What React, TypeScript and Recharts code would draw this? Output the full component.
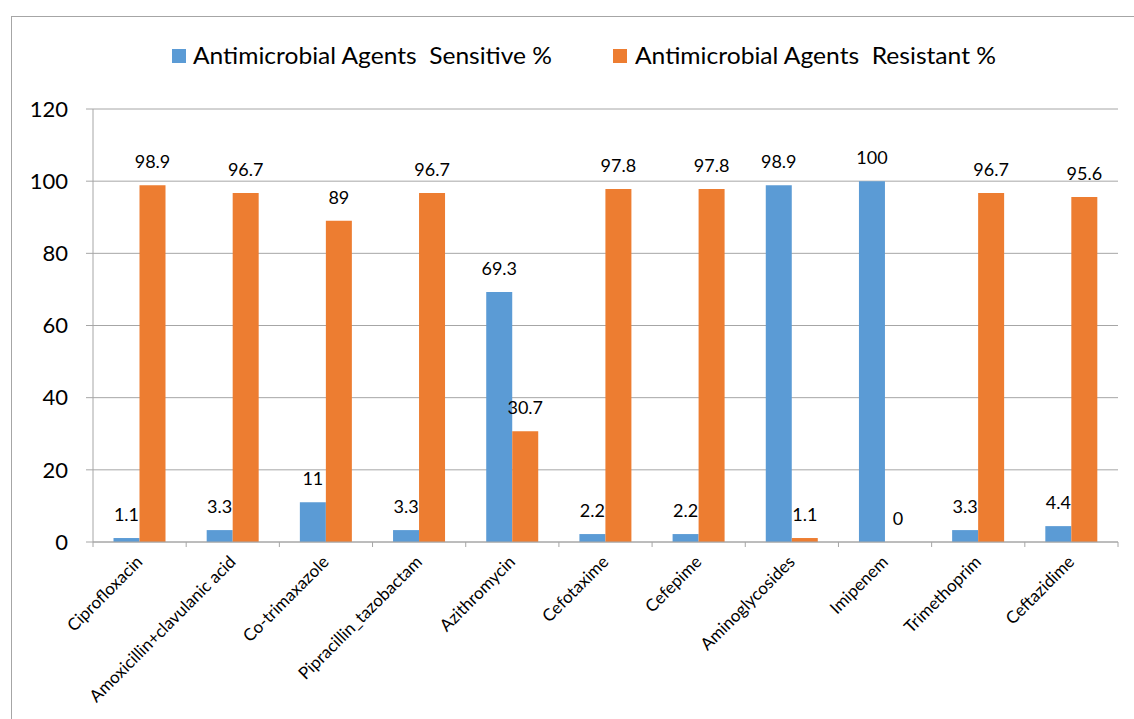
import React from 'react';
import { BarChart, Bar, XAxis, YAxis, CartesianGrid, Legend, LabelList } from 'recharts';

const CATEGORIES = [
  'Ciprofloxacin',
  'Amoxicillin+clavulanic acid',
  'Co-trimaxazole',
  'Pipracillin_tazobactam',
  'Azithromycin',
  'Cefotaxime',
  'Cefepime',
  'Aminoglycosides',
  'Imipenem',
  'Trimethoprim',
  'Ceftazidime',
];
const SENSITIVE = [1.1, 3.3, 11, 3.3, 69.3, 2.2, 2.2, 98.9, 100, 3.3, 4.4];
const RESISTANT = [98.9, 96.7, 89, 96.7, 30.7, 97.8, 97.8, 1.1, 0, 96.7, 95.6];
const Y_TICKS = [0, 20, 40, 60, 80, 100, 120];

const SERIES_NAMES = ['Antimicrobial Agents  Sensitive %', 'Antimicrobial Agents  Resistant %'];
const COLORS = ['#5b9bd5', '#ed7d31'];

const FONT = 'Lato, "Open Sans", sans-serif';
const AXIS_COLOR = '#a6a6a6';

const CHART_W = 1122;
const CHART_H = 702;
const MARGIN = { top: 92, right: 16, bottom: 100, left: 0 };
const Y_AXIS_W = 81;
const X_AXIS_H = 77;
const BAND = (CHART_W - MARGIN.left - MARGIN.right - Y_AXIS_W) / CATEGORIES.length;

const data = CATEGORIES.map((name, i) => ({
  name,
  sensitive: SENSITIVE[i],
  resistant: RESISTANT[i],
}));

// excel style: tick marks between categories, labels rotated 45deg
const CategoryTick = (props: any) => {
  const { x, y, payload, index } = props;
  const left = x - BAND / 2;
  const tx = x + 4;
  const ty = y + 21;
  return (
    <g>
      <line x1={left} y1={y} x2={left} y2={y + 5} stroke={AXIS_COLOR} />
      {index === CATEGORIES.length - 1 && (
        <line x1={x + BAND / 2} y1={y} x2={x + BAND / 2} y2={y + 5} stroke={AXIS_COLOR} />
      )}
      <text
        x={tx}
        y={ty}
        textAnchor="end"
        fontSize={17}
        fontFamily={FONT}
        fill="#000"
        transform={`rotate(-45, ${tx}, ${ty})`}
      >
        {payload.value}
      </text>
    </g>
  );
};

const ValueLabel = (props: any) => {
  const { x, y, width, value } = props;
  return (
    <text x={x + width / 2} y={y - 17} textAnchor="middle" fontSize={18} fontFamily={FONT} fill="#000">
      {String(value)}
    </text>
  );
};

const LEGEND_POS = [
  { box: 160, text: 181, textW: 359 },
  { box: 601, text: 623, textW: 361 },
];

const renderLegend = (props: any) => {
  const payload = [...(props.payload || [])].sort(
    (a: any, b: any) => SERIES_NAMES.indexOf(a.value) - SERIES_NAMES.indexOf(b.value)
  );
  return (
    <svg width={CHART_W} height={70} style={{ display: 'block' }}>
      {payload.map((entry: any, i: number) => {
        const pos = LEGEND_POS[i];
        return (
          <g key={`legend-${i}`}>
            <rect x={pos.box} y={32} width={14} height={14} fill={entry.color} />
            <text
              x={pos.text}
              y={47}
              fontSize={23}
              fontFamily={FONT}
              fill="#000"
              textLength={pos.textW}
              lengthAdjust="spacingAndGlyphs"
              style={{ whiteSpace: 'pre' }}
            >
              {entry.value}
            </text>
          </g>
        );
      })}
    </svg>
  );
};

const App: React.FC = () => {
  return (
    <div
      style={{
        position: 'fixed',
        left: 11,
        top: 16,
        width: 1130,
        height: 710,
        borderLeft: `1px solid ${AXIS_COLOR}`,
        borderTop: `1px solid ${AXIS_COLOR}`,
        background: '#fff',
        fontFamily: FONT,
      }}
    >
      <BarChart
        width={CHART_W}
        height={CHART_H}
        data={data}
        margin={MARGIN}
        barGap={0}
        barCategoryGap="22%"
      >
        <CartesianGrid vertical={false} stroke={AXIS_COLOR} />
        <XAxis
          dataKey="name"
          interval={0}
          height={X_AXIS_H}
          tickSize={0}
          tickMargin={0}
          tickLine={false}
          axisLine={{ stroke: AXIS_COLOR }}
          tick={<CategoryTick />}
        />
        <YAxis
          width={Y_AXIS_W}
          domain={[0, 120]}
          ticks={Y_TICKS}
          interval={0}
          tickSize={7}
          tickMargin={18}
          axisLine={{ stroke: AXIS_COLOR }}
          tickLine={{ stroke: AXIS_COLOR }}
          tick={{ fill: '#000', fontSize: 22, fontFamily: FONT }}
        />
        <Legend
          layout="horizontal"
          verticalAlign="middle"
          align="center"
          wrapperStyle={{ top: 0, left: 0, width: CHART_W, height: 70 }}
          content={renderLegend}
        />
        <Bar dataKey="sensitive" name={SERIES_NAMES[0]} fill={COLORS[0]} isAnimationActive={false}>
          <LabelList dataKey="sensitive" content={<ValueLabel />} />
        </Bar>
        <Bar
          dataKey="resistant"
          name={SERIES_NAMES[1]}
          fill={COLORS[1]}
          minPointSize={0.01}
          isAnimationActive={false}
        >
          <LabelList dataKey="resistant" content={<ValueLabel />} />
        </Bar>
      </BarChart>
    </div>
  );
};

export default App;
